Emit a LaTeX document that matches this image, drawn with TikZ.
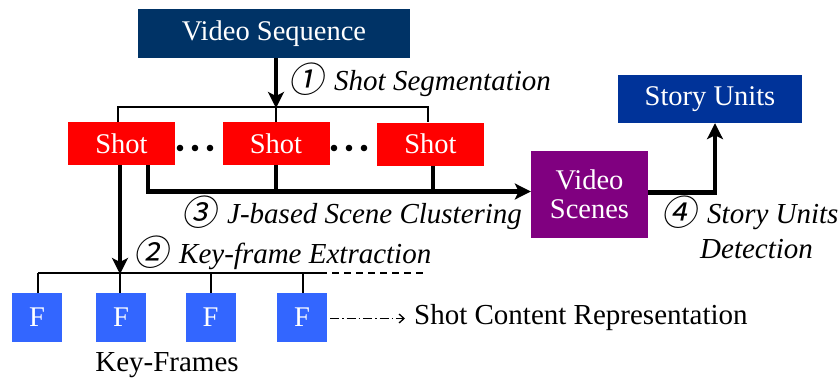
\documentclass[tikz,border=0pt]{standalone}
\usepackage{fontspec}
\setmainfont{Liberation Serif}
\newfontfamily\circfont[FakeSlant=0.2]{Noto Sans CJK SC}
\usetikzlibrary{arrows.meta}
\definecolor{seqnavy}{RGB}{0,51,102}
\definecolor{storyblue}{RGB}{0,51,153}
\definecolor{shotred}{RGB}{255,0,0}
\definecolor{scenepurple}{RGB}{128,0,128}
\definecolor{frameblue}{RGB}{51,102,255}
\newcommand{\circnum}[1]{{\circfont\fontsize{35}{35}\selectfont\raisebox{-2pt}{#1}}\hspace{11pt}}
\begin{document}
\begin{tikzpicture}[x=1pt,y=-1pt,
  box/.style={inner sep=0pt, text=white, align=center,
    font=\fontsize{28.5}{29}\selectfont},
  shotbox/.style={box, fill=shotred, minimum width=107pt, minimum height=43pt},
  framebox/.style={box, fill=frameblue, minimum width=50pt, minimum height=49pt},
  lbl/.style={inner sep=0pt, anchor=west, font=\fontsize{29}{30}\selectfont},
  thinline/.style={line width=1.6pt},
  heavy/.style={line width=4.5pt},
  heavyarrow/.style={heavy, -{Stealth[length=16pt,width=16pt,inset=4pt]}},
]
\useasboundingbox (0,0) rectangle (839,383);

% boxes
\node[box, fill=seqnavy, minimum width=272pt, minimum height=49pt] (vs) at (274,33.5) {Video Sequence};
\node[shotbox] (shot1) at (121.5,143.5) {Shot};
\node[shotbox] (shot2) at (276,143.5) {Shot};
\node[shotbox] (shot3) at (430.5,144) {Shot};
\node[box, fill=scenepurple, minimum width=117pt, minimum height=87pt] (scenes) at (589.5,194.5) {Video\\Scenes};
\node[box, fill=storyblue, minimum width=184pt, minimum height=48pt] (story) at (710,99) {Story Units};
\node[framebox] (f1) at (37,317.5) {F};
\node[framebox] (f2) at (121,317.5) {F};
\node[framebox] (f3) at (210.5,317.5) {F};
\node[framebox] (f4) at (302,317.5) {F};

% ellipses between shots
\foreach \x in {180,195,210,334,349,364}
  \fill (\x,148) circle (3.3pt);

% bus above the shots
\coordinate (b1) at (118,107);
\coordinate (b2) at (276,107);
\coordinate (b3) at (428,107);
\draw[thinline] (b1 |- shot1.north) -- (b1) -- (b3) -- (b3 |- shot3.north);
\draw[thinline] (b2) -- (shot2.north);
\draw[heavyarrow] (vs.south -| b2) -- ([yshift=-1pt]b2);

% scene clustering line
\coordinate (c1) at (148,191.5);
\coordinate (c2) at (276,191.5);
\coordinate (c3) at (433,191.5);
\draw[heavy, line join=miter] (shot1.south -| c1) -- (c1) -- (c3);
\draw[heavy] (shot2.south -| c2) -- (c2);
\draw[heavy] (shot3.south -| c3) -- (c3);
\draw[heavyarrow] (c3) -- (scenes.west |- c3);

% story units detection
\coordinate (s1) at (715,192.5);
\draw[heavyarrow, line join=miter] (scenes.east |- s1) -- (s1) -- (story.south -| s1);

% key-frame bus
\coordinate (k0) at (38,273);
\coordinate (k1) at (120,273);
\coordinate (k2) at (211,273);
\coordinate (k3) at (303,273);
\coordinate (k4) at (320,273);
\coordinate (k5) at (424,273);
\draw[thinline] (k0) -- (k4);
\draw[line width=1.6pt, dash pattern=on 7pt off 5pt] (k4) -- (k5);
\draw[thinline] (k0) -- (k0 |- f1.north);
\draw[thinline] (k1) -- (k1 |- f2.north);
\draw[thinline] (k2) -- (k2 |- f3.north);
\draw[thinline] (k3) -- (k3 |- f4.north);
\draw[heavyarrow] (shot1.south -| k1) -- ([yshift=-1pt]k1);

% shot content representation
\node[lbl] (rep) at (414,318) {Shot Content Representation};
\coordinate (r0) at ([shift={(3pt,-1pt)}]f4.east);
\coordinate (r1) at ([xshift=-9pt]rep.west);
\draw[line width=1.3pt, dash pattern=on 9pt off 3pt on 1.5pt off 3pt,
  -{Straight Barb[length=5pt,width=9pt]}] (r0) -- (r0 -| r1);

% labels
\node[lbl] (l1) at (288,80) {\circnum{①}\textit{Shot Segmentation}};
\node[lbl] (l3) at (181,213) {\circnum{③}\textit{J-based Scene Clustering}};
\node[lbl] (l2) at (133,253) {\circnum{②}\textit{Key-frame Extraction}};
\node[lbl] (l4) at (661,213) {\circnum{④}\textit{Story Units}};
\node[lbl] (l4b) at (700,249) {\textit{Detection}};
\node[lbl, anchor=center] (kf) at (167,365) {Key-Frames};
\end{tikzpicture}
\end{document}
